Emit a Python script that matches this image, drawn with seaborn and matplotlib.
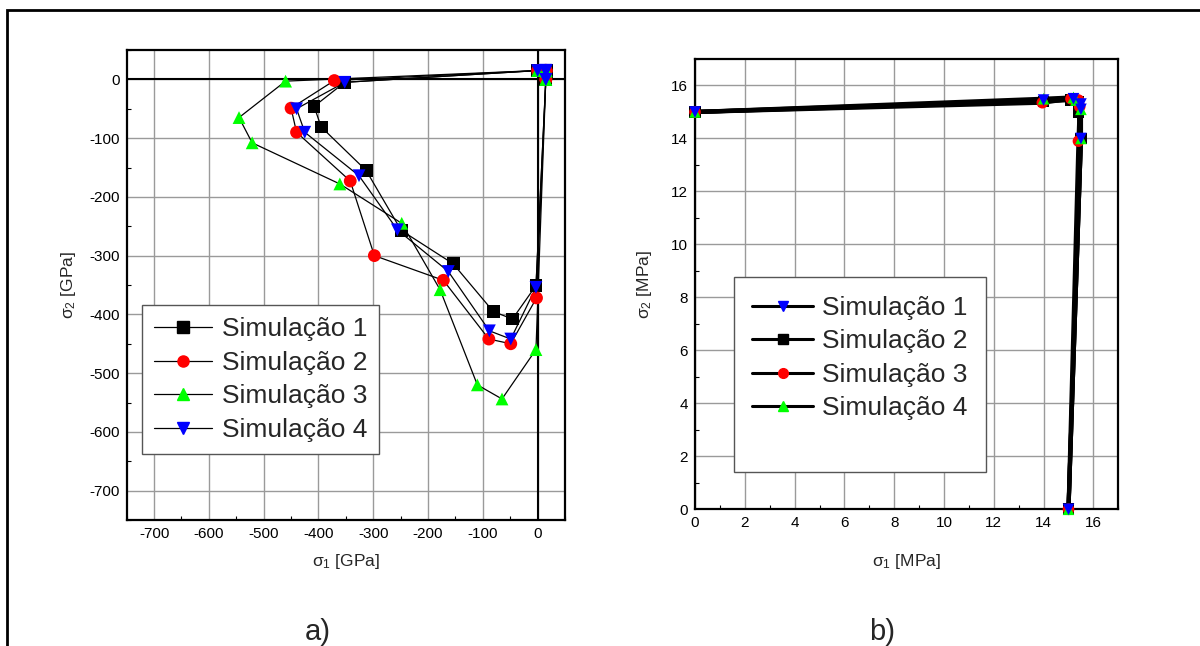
import numpy as np
import pandas as pd
import matplotlib
matplotlib.use("Agg")
import matplotlib.pyplot as plt
from matplotlib.lines import Line2D
from matplotlib.patches import Rectangle
from matplotlib.ticker import MultipleLocator
import seaborn as sns

# ---------------- data ----------------
series_names = ["Simulação 1", "Simulação 2", "Simulação 3", "Simulação 4"]

# left panel (a) – GPa
cluster_x = [15, 15.5, 15.5, 15.2, 14, 0]
cluster_y = [0, 14, 15.2, 15.5, 15.4, 15]

a_s1_x = [-352, -408, -395, -313, -249, -154, -81, -46, -3]
a_s1_y = [-5, -46, -81, -155, -257, -314, -395, -408, -351]
a_s2_x = [-371, -450, -440, -342, -298, -172, -89, -49, -2]
a_s2_y = [-2, -49, -90, -173, -300, -342, -442, -450, -372]
a_s3_x = [-460, -545, -521, -361, -248, -178, -110, -65, -3]
a_s3_y = [-3, -65, -108, -178, -245, -358, -520, -544, -460]
a_s4_x = [-352, -440, -425, -326, -256, -163, -88, -49, -3]
a_s4_y = [-5, -50, -90, -164, -256, -327, -428, -442, -354]

# right panel (b) – MPa
b_s1_x = [0, 14.0, 15.2, 15.5, 15.5, 15.5, 15.0]
b_s1_y = [15, 15.45, 15.5, 15.3, 15.1, 14.0, 0]
b_s2_x = [0, 14.0, 15.1, 15.4, 15.4, 15.5, 15.0]
b_s2_y = [15, 15.4, 15.45, 15.4, 15.0, 14.0, 0]
b_s3_x = [0, 13.95, 15.1, 15.4, 15.45, 15.4, 15.0]
b_s3_y = [15, 15.35, 15.5, 15.45, 15.2, 13.9, 0]
b_s4_x = [0, 14.0, 15.2, 15.3, 15.5, 15.5, 15.0]
b_s4_y = [15, 15.5, 15.55, 15.45, 15.1, 14.0, 0]

# ---------------- style ----------------
sns.set_style("white")
plt.rcParams["font.family"] = ["Liberation Sans", "DejaVu Sans"]
plt.rcParams["mathtext.fontset"] = "custom"
plt.rcParams["mathtext.rm"] = "Liberation Sans"
plt.rcParams["mathtext.it"] = "Liberation Sans"
plt.rcParams["axes.unicode_minus"] = False

fig = plt.figure(figsize=(12, 6.46), dpi=100)
fig.patch.set_facecolor("white")

# outer frame
fig.patches.append(Rectangle((7 / 1200, -0.2), 1.3, 1 - 10 / 646 + 0.2,
                             transform=fig.transFigure, fill=False,
                             edgecolor="black", linewidth=2, zorder=0))

axA = fig.add_axes([126.7 / 1200, 1 - 520 / 646, (565 - 126.7) / 1200, (520 - 50) / 646])
axB = fig.add_axes([695 / 1200, 1 - 509.3 / 646, (1118.3 - 695) / 1200, (509.3 - 59) / 646])


def build(xs, ys, names, prefix=None, suffix=None):
    rows = []
    for name, x, y in zip(names, xs, ys):
        fx = (prefix[0] if prefix else []) + list(x) + (suffix[0] if suffix else [])
        fy = (prefix[1] if prefix else []) + list(y) + (suffix[1] if suffix else [])
        for i, (xx, yy) in enumerate(zip(fx, fy)):
            rows.append({"serie": name, "order": i, "x": xx, "y": yy})
    return pd.DataFrame(rows)


# ---- panel a ----
dfA = build([a_s1_x, a_s2_x, a_s3_x, a_s4_x], [a_s1_y, a_s2_y, a_s3_y, a_s4_y],
            series_names, prefix=(cluster_x, cluster_y), suffix=([cluster_x[0]], [cluster_y[0]]))
colorsA = {"Simulação 1": "black", "Simulação 2": "red", "Simulação 3": "#00ff00", "Simulação 4": "blue"}
markersA = {"Simulação 1": "s", "Simulação 2": "o", "Simulação 3": "^", "Simulação 4": "v"}

axA.axhline(0, color="black", lw=1.5, zorder=1.5)
axA.axvline(0, color="black", lw=1.5, zorder=1.5)
sns.lineplot(data=dfA, x="x", y="y", units="serie", estimator=None, sort=False,
             color="black", lw=0.9, ax=axA, legend=False, zorder=2)
for name in series_names:
    sub = dfA[dfA.serie == name]
    sns.scatterplot(data=sub, x="x", y="y", marker=markersA[name], color=colorsA[name],
                    s=85, edgecolor="none", linewidth=0, ax=axA, legend=False, zorder=3)

axA.set_xlim(-750, 50)
axA.set_ylim(-750, 50)
axA.xaxis.set_major_locator(MultipleLocator(100))
axA.yaxis.set_major_locator(MultipleLocator(100))
axA.xaxis.set_minor_locator(MultipleLocator(50))
axA.yaxis.set_minor_locator(MultipleLocator(50))
axA.set_xlabel(r"$\sigma_1$ [GPa]", fontsize=12.5, labelpad=8)
axA.set_ylabel(r"$\sigma_2$ [GPa]", fontsize=12.5, labelpad=8)

hA = [Line2D([0], [0], color="black", lw=0.9, marker=markersA[n], markersize=8,
             markerfacecolor=colorsA[n], markeredgecolor=colorsA[n]) for n in series_names]
legA = axA.legend(hA, series_names, loc="lower left", bbox_to_anchor=(0.036, 0.141),
                  fontsize=19, frameon=True, fancybox=False, handlelength=2.2,
                  borderpad=0.45, labelspacing=0.36, handletextpad=0.35, borderaxespad=0)

# ---- panel b ----
orderB = ["Simulação 1", "Simulação 2", "Simulação 3", "Simulação 4"]
dfB = build([b_s1_x, b_s2_x, b_s3_x, b_s4_x], [b_s1_y, b_s2_y, b_s3_y, b_s4_y], orderB)
colorsB = {"Simulação 1": "blue", "Simulação 2": "black", "Simulação 3": "red", "Simulação 4": "#00ff00"}
markersB = {"Simulação 1": "v", "Simulação 2": "s", "Simulação 3": "o", "Simulação 4": "^"}

sns.lineplot(data=dfB, x="x", y="y", units="serie", estimator=None, sort=False,
             color="black", lw=3, ax=axB, legend=False, zorder=2)
for name in ["Simulação 2", "Simulação 3", "Simulação 4", "Simulação 1"]:
    sub = dfB[dfB.serie == name]
    sns.scatterplot(data=sub, x="x", y="y", marker=markersB[name], color=colorsB[name],
                    s=70, edgecolor="none", linewidth=0, ax=axB, legend=False, zorder=3,
                    clip_on=False)

axB.set_xlim(0, 17)
axB.set_ylim(0, 17)
axB.xaxis.set_major_locator(MultipleLocator(2))
axB.yaxis.set_major_locator(MultipleLocator(2))
axB.xaxis.set_minor_locator(MultipleLocator(1))
axB.yaxis.set_minor_locator(MultipleLocator(1))
axB.set_xlabel(r"$\sigma_1$ [MPa]", fontsize=12.5, labelpad=16)
axB.set_ylabel(r"$\sigma_2$ [MPa]", fontsize=12.5, labelpad=12)

hB = [Line2D([0], [0], color="black", lw=2.2, marker=markersB[n], markersize=7,
             markerfacecolor=colorsB[n], markeredgecolor=colorsB[n]) for n in orderB]
hB.append(Line2D([0], [0], color="none", lw=0))
legB = axB.legend(hB, orderB + [" "], loc="upper left", bbox_to_anchor=(0.092, 0.515),
                  fontsize=19, frameon=True, fancybox=False, handlelength=2.3,
                  borderpad=0.7, labelspacing=0.36, handletextpad=0.35, borderaxespad=0)

for ax in (axA, axB):
    ax.grid(True, which="major", color="#9a9a9a", lw=1.0, zorder=0)
    ax.set_axisbelow(True)
    for sp in ax.spines.values():
        sp.set_color("black")
        sp.set_linewidth(1.6)
    ax.tick_params(which="both", direction="in", labelsize=11, colors="black")
    ax.tick_params(which="major", length=0, pad=5)
    ax.tick_params(which="minor", length=3, width=0.8)
    ax.tick_params(axis="y", which="minor", left=True)
    ax.tick_params(axis="x", which="minor", bottom=True)
    leg = ax.get_legend()
    leg.get_frame().set_edgecolor("#555555")
    leg.get_frame().set_linewidth(1.0)
    leg.get_frame().set_alpha(1)

fig.text(318 / 1200, 1 - 632 / 646, "a)", fontsize=21, ha="center", va="center")
fig.text(882 / 1200, 1 - 632 / 646, "b)", fontsize=21, ha="center", va="center")

fig.savefig("out.png", dpi=100, facecolor="white")
